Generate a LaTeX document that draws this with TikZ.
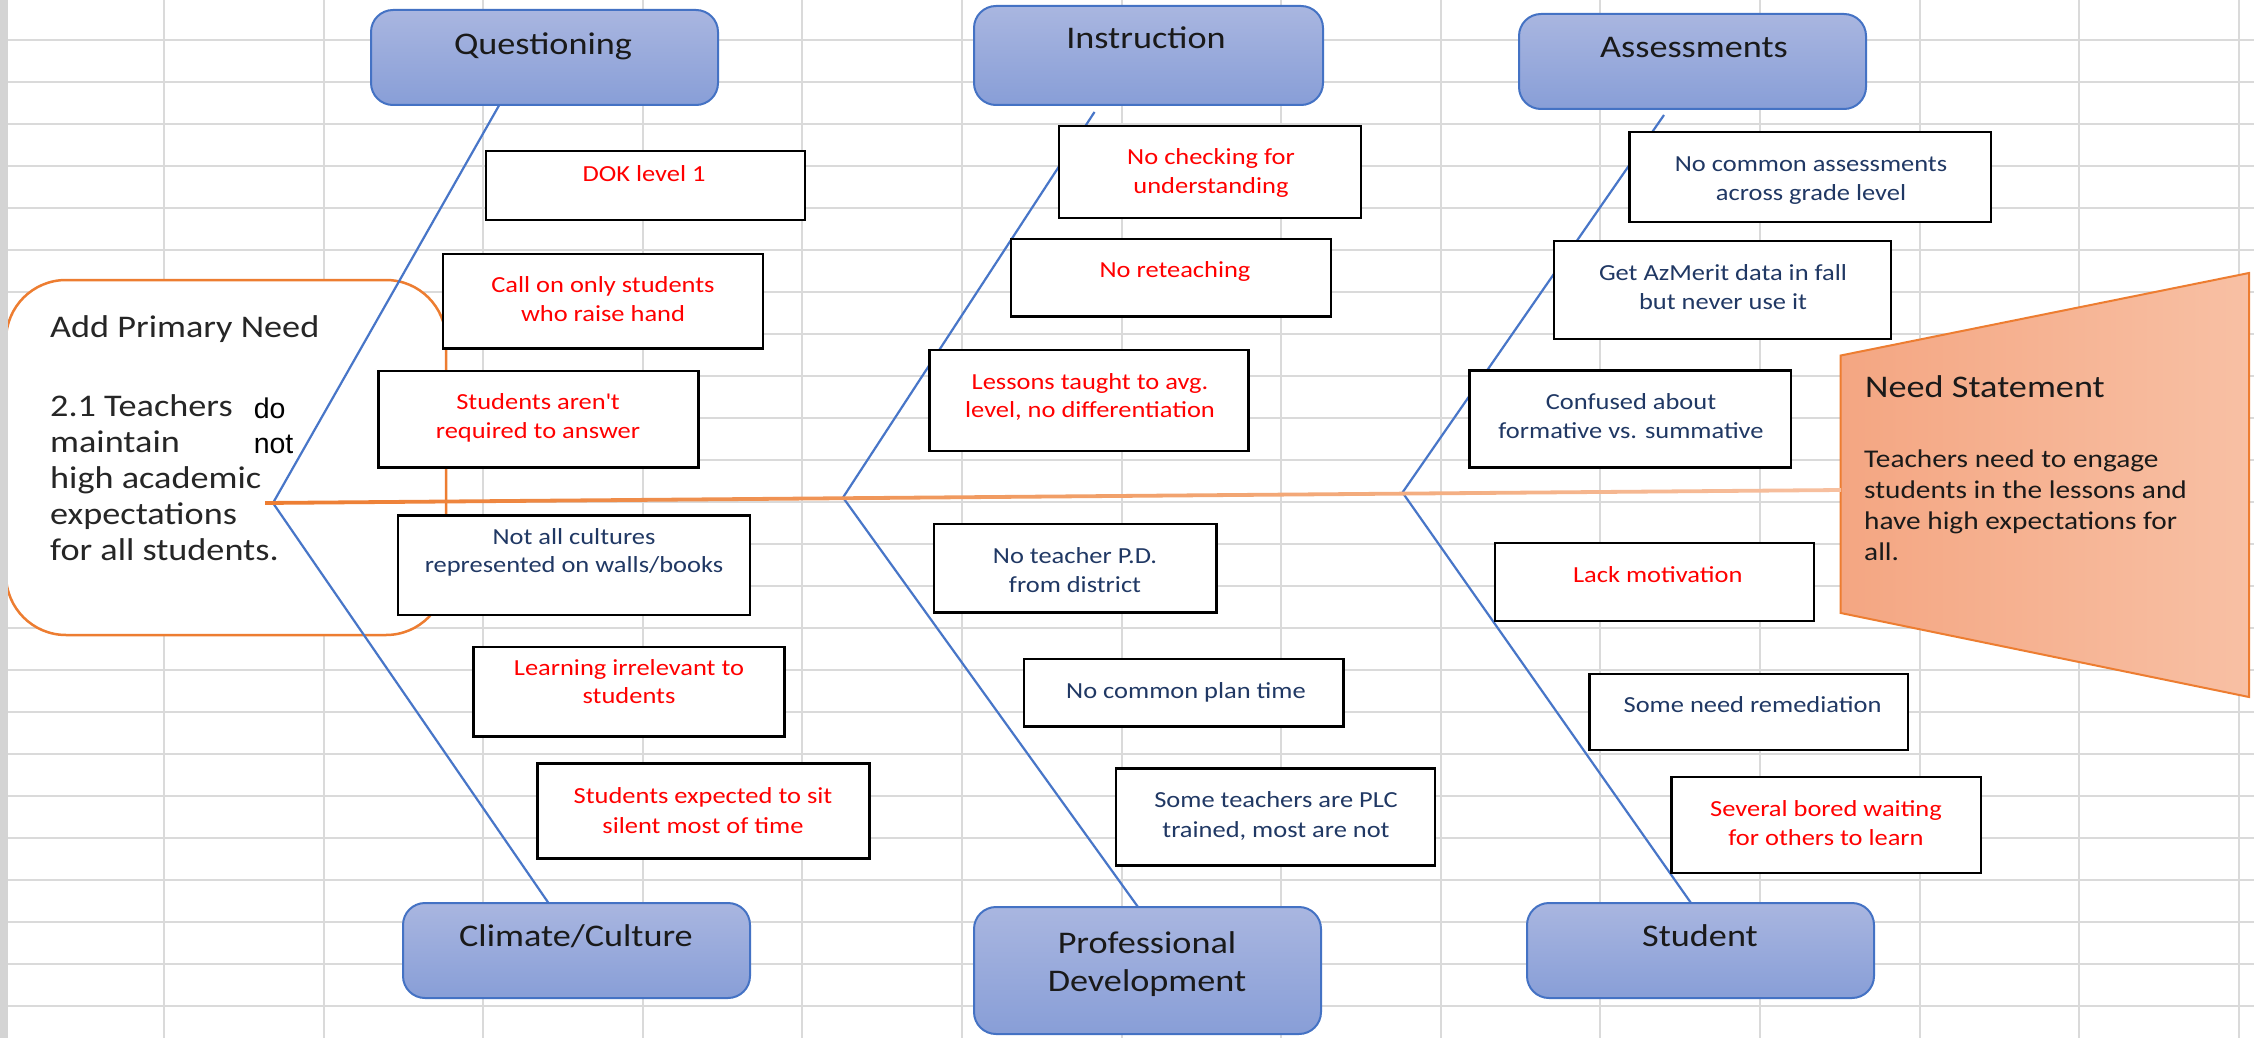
\documentclass[tikz,border=0pt]{standalone}
\usepackage{fontspec}
\setmainfont{Carlito}[FakeStretch=1.15]
\newfontfamily\arialf{Liberation Sans}
\usetikzlibrary{fit,calc}
\definecolor{gridc}{RGB}{218,218,218}
\definecolor{stripc}{RGB}{212,212,212}
\definecolor{boneblue}{RGB}{72,118,200}
\definecolor{catborder}{RGB}{68,114,196}
\definecolor{cattop}{RGB}{169,182,224}
\definecolor{catbot}{RGB}{136,158,215}
\definecolor{orangec}{RGB}{237,125,49}
\definecolor{orangemid}{RGB}{241,158,102}
\definecolor{orangelt}{RGB}{247,192,160}
\definecolor{nsleft}{RGB}{244,166,130}
\definecolor{nsright}{RGB}{248,192,164}
\definecolor{redc}{RGB}{255,0,0}
\definecolor{navyc}{RGB}{32,56,100}
\definecolor{titlec}{RGB}{26,26,26}
\definecolor{darkc}{RGB}{38,38,38}
\tikzset{
  gridl/.style={draw=gridc, line width=2pt},
  bone/.style={draw=boneblue, line width=2.2pt},
  tbox/.style={draw=black, line width=2.6pt, fill=white, inner sep=0pt},
  catbox/.style={draw=catborder, line width=2pt, rounded corners=22pt, top color=cattop, bottom color=catbot, inner sep=0pt},
  cattxt/.style={inner sep=0pt, anchor=base, text=titlec, font=\fontsize{31.5}{37.6}\selectfont},
  redtxt/.style={inner sep=0pt, anchor=base, text=redc, font=\fontsize{23}{27}\selectfont},
  navytxt/.style={inner sep=0pt, anchor=base, text=navyc, font=\fontsize{23}{27}\selectfont},
  pntxt/.style={inner sep=0pt, anchor=base west, text=darkc, font=\fontsize{31.5}{37.6}\selectfont},
  arialtxt/.style={inner sep=0pt, anchor=base west, text=black, font=\arialf\fontsize{28.5}{34}\selectfont},
  nstitle/.style={inner sep=0pt, anchor=base west, text=titlec, font=\fontsize{31.5}{37.6}\selectfont},
  nsbody/.style={inner sep=0pt, anchor=base west, text=titlec, font=\fontsize{25.5}{31.3}\selectfont},
}
\begin{document}
\begin{tikzpicture}[x=1pt,y=-1pt]
\useasboundingbox (0,0) rectangle (2254,1038);
\fill[white] (0,0) rectangle (2254,1038);
% spreadsheet grid
\foreach \k in {0,...,23} { \draw[gridl] (8,{40+42*\k}) -- (2254,{40+42*\k}); }
\foreach \k in {0,...,13} { \draw[gridl] ({164+159.6*\k},0) -- ({164+159.6*\k},1038); }
% primary need box
\draw[draw=orangec, line width=2.5pt, fill=white, rounded corners=60pt] (6,280) rectangle (446,635);
\fill[stripc] (0,0) rectangle (8,1038);
% need statement shape
\coordinate (ns1) at (1840.7,355.5);
\coordinate (ns2) at (2249,273);
\coordinate (ns3) at (2249,697);
\coordinate (ns4) at (1840.7,613);
\shadedraw[left color=nsleft, right color=nsright, draw=orangec, line width=2pt, line join=miter] (ns1) -- (ns2) -- (ns3) -- (ns4) -- cycle;
% fishbone heads and bone ends
\coordinate (hQ) at (273,503);
\coordinate (hI) at (843,497.5);
\coordinate (hA) at (1402.5,492.5);
\coordinate (eQ) at (499,105.5);
\coordinate (eI) at (1094.5,112);
\coordinate (eA) at (1664,115);
\coordinate (eC) at (548.5,903);
\coordinate (ePD) at (1138,907);
\coordinate (eS) at (1691,903);
\draw[bone] (eQ) -- (hQ) -- (eC);
\draw[bone] (eI) -- (hI) -- (ePD);
\draw[bone] (eA) -- (hA) -- (eS);
% spine
\coordinate (spL) at (265,503);
\coordinate (spR) at (1841,490);
\shade[left color=orangec, right color=orangelt, middle color=orangemid]
  ($(spL)+(0,-1.9)$) -- ($(spR)+(0,-1.9)$) -- ($(spR)+(0,1.9)$) -- ($(spL)+(0,1.9)$) -- cycle;
% cause boxes
\node[tbox, fit={(486,151) (805,220)}] (b1) {};
\node[tbox, fit={(443,254) (763,348.5)}] (b2) {};
\node[tbox, fit={(378.6,371) (698.5,467.5)}] (b3) {};
\node[tbox, fit={(398,515.4) (750,615)}] (b4) {};
\node[tbox, fit={(473.5,646.8) (784.7,736.7)}] (b5) {};
\node[tbox, fit={(537.6,763.5) (869.7,858.5)}] (b6) {};
\node[tbox, fit={(1059,126) (1361,218)}] (b7) {};
\node[tbox, fit={(1011,238.8) (1331,316.7)}] (b8) {};
\node[tbox, fit={(929.5,350) (1248.6,451)}] (b9) {};
\node[tbox, fit={(934,524) (1216.5,612.5)}] (b10) {};
\node[tbox, fit={(1024,658.9) (1343.7,726.4)}] (b11) {};
\node[tbox, fit={(1116,768.6) (1435,865.4)}] (b12) {};
\node[tbox, fit={(1629.5,132) (1991,222)}] (b13) {};
\node[tbox, fit={(1554,241) (1891,339)}] (b14) {};
\node[tbox, fit={(1469.5,370.7) (1791,467.6)}] (b15) {};
\node[tbox, fit={(1495,543) (1814,621)}] (b16) {};
\node[tbox, fit={(1589.5,674) (1908,750)}] (b17) {};
\node[tbox, fit={(1671.5,777) (1981,873)}] (b18) {};
% cause texts
\node[redtxt] (t1) at (644,181.7) {DOK level 1};
\node[redtxt] (t2a) at (603,292.7) {Call on only students};
\node[redtxt] (t2b) at (603,321) {who raise hand};
\node[redtxt] (t3a) at (538,409.7) {Students aren\textquotesingle t};
\node[redtxt] (t3b) at (538,438.7) {required to answer};
\node[navytxt] (t4a) at (574,544.4) {Not all cultures};
\node[navytxt] (t4b) at (574,572.7) {represented on walls/books};
\node[redtxt] (t5a) at (629,675.5) {Learning irrelevant to};
\node[redtxt] (t5b) at (629,703) {students};
\node[redtxt] (t6a) at (703,803) {Students expected to sit};
\node[redtxt] (t6b) at (703,833) {silent most of time};
\node[redtxt] (t7a) at (1211,164.7) {No checking for};
\node[redtxt] (t7b) at (1211,193.7) {understanding};
\node[redtxt] (t8) at (1175,277.7) {No reteaching};
\node[redtxt] (t9a) at (1090,389.7) {Lessons taught to avg.};
\node[redtxt] (t9b) at (1090,417.7) {level, no differentiation};
\node[navytxt] (t10a) at (1075,563.3) {No teacher P.D.};
\node[navytxt] (t10b) at (1075,592.5) {from district};
\node[navytxt] (t11) at (1186,698.2) {No common plan time};
\node[navytxt] (t12a) at (1276,807.7) {Some teachers are PLC};
\node[navytxt] (t12b) at (1276,837) {trained, most are not};
\node[navytxt] (t13a) at (1811,171.5) {No common assessments};
\node[navytxt] (t13b) at (1811,200) {across grade level};
\node[navytxt] (t14a) at (1723,280.3) {Get AzMerit data in fall};
\node[navytxt] (t14b) at (1723,309) {but never use it};
\node[navytxt] (t15a) at (1631,409.7) {Confused about};
\node[navytxt] (t15b) at (1631,438.7) {formative vs. summative};
\node[redtxt] (t16) at (1657.7,582.2) {Lack motivation};
\node[navytxt] (t17) at (1752.5,712.6) {Some need remediation};
\node[redtxt] (t18a) at (1826,816.5) {Several bored waiting};
\node[redtxt] (t18b) at (1826,845.7) {for others to learn};
% category boxes
\node[catbox, fit={(371,10) (718,105)}] (Q) {};
\node[catbox, fit={(974,6) (1323,105)}] (I) {};
\node[catbox, fit={(1519,14) (1866,109)}] (A) {};
\node[catbox, fit={(403,903) (750,998)}] (C) {};
\node[catbox, fit={(974,907) (1321,1034)}] (PD) {};
\node[catbox, fit={(1527,903) (1874,998)}] (S) {};
\node[cattxt] (Qt) at (543,55) {Questioning};
\node[cattxt] (It) at (1146,49) {Instruction};
\node[cattxt] (At) at (1694,58) {Assessments};
\node[cattxt] (Ct) at (576,946) {Climate/Culture};
\node[cattxt] (PDt1) at (1147,953) {Professional};
\node[cattxt] (PDt2) at (1147,991) {Development};
\node[cattxt] (St) at (1700,946) {Student};
% primary need text
\node[pntxt] (pn0) at (50,337) {Add Primary Need};
\node[pntxt] (pn1) at (50,416) {2.1 Teachers};
\node[pntxt] (pn2) at (50,452) {maintain};
\node[pntxt] (pn3) at (50,488) {high academic};
\node[pntxt] (pn4) at (50,524) {expectations};
\node[pntxt] (pn5) at (50,560) {for all students.};
\node[arialtxt] (pdo) at (253.6,418) {do};
\node[arialtxt] (pnot) at (253.6,453) {not};
% need statement text
\node[nstitle] (nst) at (1865,397) {Need Statement};
\node[nsbody] (nb1) at (1864,467) {Teachers need to engage};
\node[nsbody] (nb2) at (1864,498.3) {students in the lessons and};
\node[nsbody] (nb3) at (1864,529.6) {have high expectations for};
\node[nsbody] (nb4) at (1864,560.9) {all.};
\end{tikzpicture}
\end{document}
